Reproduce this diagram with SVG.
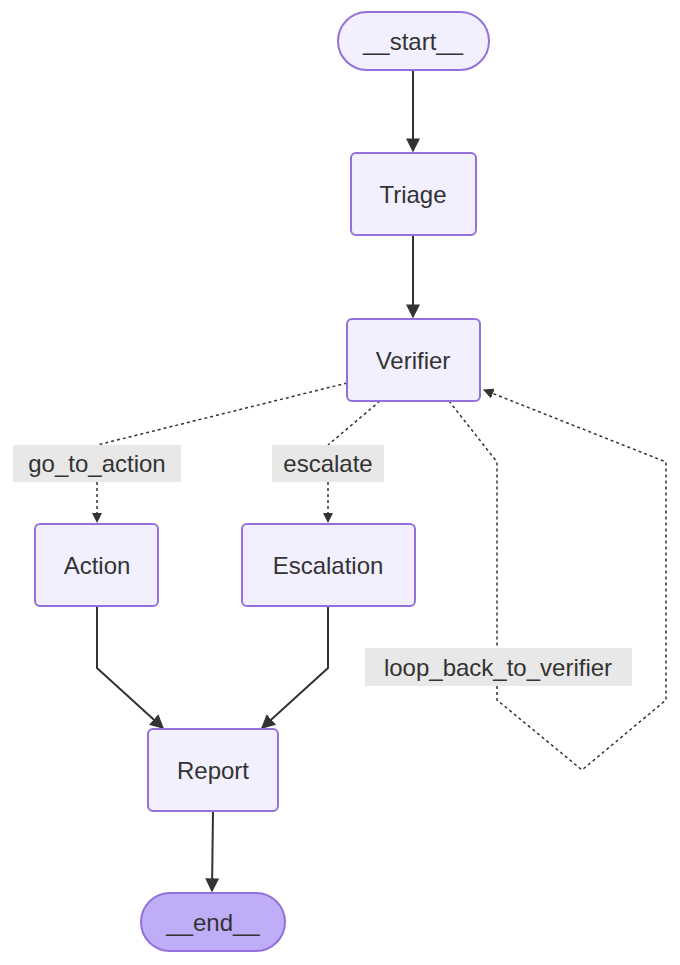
<svg xmlns="http://www.w3.org/2000/svg" width="680" height="965" viewBox="0 0 680 965">
<style>
.n{fill:#f2f0ff;stroke:#9370db;stroke-width:2}
.t{font-family:"Liberation Sans",Arial,sans-serif;font-size:24px;fill:#333;text-anchor:middle;dominant-baseline:central}
.e{fill:none;stroke:#333;stroke-width:2}
.d{fill:none;stroke:#333;stroke-width:1.5;stroke-dasharray:3,3}
.lb{fill:#e8e8e8}
</style>
<defs><marker id="a" viewBox="0 0 10 10" refX="9" refY="5" markerWidth="7" markerHeight="7" orient="auto"><path d="M0,0L10,5L0,10z" fill="#333"/></marker></defs>
<g id="edges">
<path class="e" d="M413,70V151" marker-end="url(#a)"/>
<path class="e" d="M413,235V317" marker-end="url(#a)"/>
<path class="d" d="M347,383L97,445M97,482V522" marker-end="url(#a)"/>
<path class="d" d="M380,401L328,445M328,482V522" marker-end="url(#a)"/>
<path class="d" d="M449,401L497,462V648M497,686V700L582,770L666,700V462L484,390" marker-end="url(#a)"/>
<path class="e" d="M97,606V668L163,728" marker-end="url(#a)"/>
<path class="e" d="M328,606V668L262,728" marker-end="url(#a)"/>
<path class="e" d="M213,811L212,891" marker-end="url(#a)"/>
<rect class="lb" x="13" y="445" width="168" height="37"/><text class="t" x="97" y="463">go_to_action</text>
<rect class="lb" x="272" y="445" width="112" height="37"/><text class="t" x="328" y="463">escalate</text>
<rect class="lb" x="365" y="648" width="267" height="38"/><text class="t" x="498" y="667">loop_back_to_verifier</text>
</g>
<g id="start"><rect class="n" x="338" y="12" width="151" height="58" rx="29"/><text class="t" x="413" y="41">__start__</text></g>
<g id="triage"><rect class="n" x="351" y="153" width="125" height="82" rx="5"/><text class="t" x="413" y="194">Triage</text></g>
<g id="verifier"><rect class="n" x="347" y="319" width="133" height="82" rx="5"/><text class="t" x="413" y="360">Verifier</text></g>
<g id="action"><rect class="n" x="35" y="524" width="123" height="82" rx="5"/><text class="t" x="97" y="565">Action</text></g>
<g id="escalation"><rect class="n" x="242" y="524" width="173" height="82" rx="5"/><text class="t" x="328" y="565">Escalation</text></g>
<g id="report"><rect class="n" x="148" y="729" width="130" height="82" rx="5"/><text class="t" x="213" y="770">Report</text></g>
<g id="end"><rect x="141" y="893" width="144" height="58" rx="29" fill="#bfadf8" stroke="#9370db" stroke-width="2"/><text class="t" x="213" y="922">__end__</text></g>
</svg>
